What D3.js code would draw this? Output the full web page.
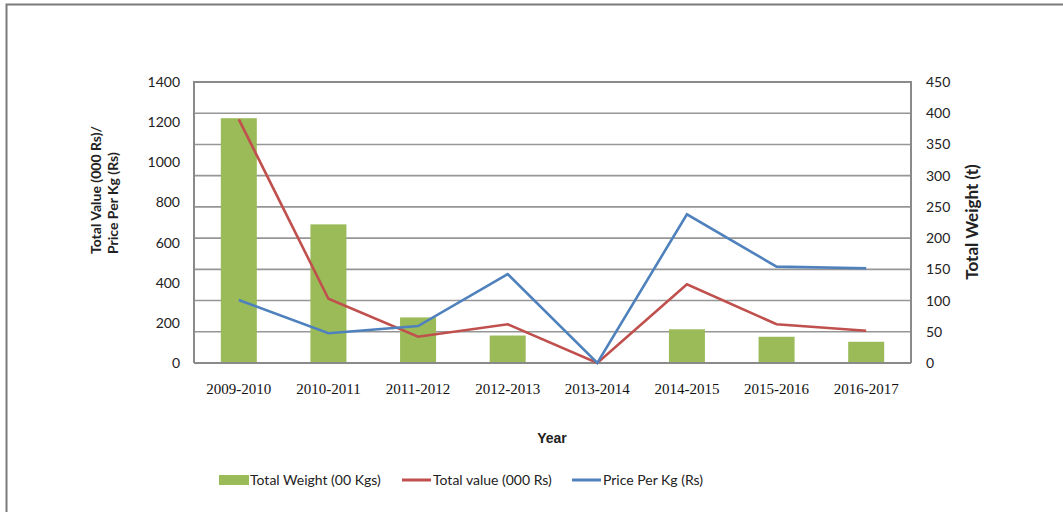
<!DOCTYPE html>
<html>
<head>
<meta charset="utf-8">
<script src="https://cdn.jsdelivr.net/npm/d3@7"></script>
<style>
  body { margin: 0; background: #fff; }
  svg { display: block; }
</style>
</head>
<body>
<svg id="chart" width="1063" height="512"></svg>
<script>
// data
var years = ['2009-2010', '2010-2011', '2011-2012', '2012-2013', '2013-2014', '2014-2015', '2015-2016', '2016-2017']
var totalWeight = [392, 222, 73, 44, 0, 54, 42, 34]       // right axis (t)
var totalValue = [1214, 320, 131, 193, 0, 392, 193, 161]  // left axis
var pricePerKg = [314, 148, 184, 443, 0, 741, 480, 472]   // left axis
var leftTicks = [0, 200, 400, 600, 800, 1000, 1200, 1400]
var rightTicks = [0, 50, 100, 150, 200, 250, 300, 350, 400, 450]

var svg = d3.select('#chart')
var plotL = 194, plotR = 911, plotT = 82, plotB = 363

// outer frame of the picture
svg.append('path')
  .attr('d', 'M6.5,512 V4.5 H1063')
  .attr('fill', 'none')
  .attr('stroke', '#7a7a7a')
  .attr('stroke-width', 2)

var xc = d3.scaleBand().domain(years).range([plotL, plotR])
var yL = d3.scaleLinear().domain([0, 1400]).range([plotB, plotT])
var yR = d3.scaleLinear().domain([0, 450]).range([plotB, plotT])

// gridlines follow the right axis
svg.append('g')
  .selectAll('line')
  .data(rightTicks)
  .enter()
  .append('line')
  .attr('x1', plotL).attr('x2', plotR)
  .attr('y1', function(d) { return yR(d) })
  .attr('y2', function(d) { return yR(d) })
  .attr('stroke', '#969696')
  .attr('stroke-width', 1.6)

svg.append('path')
  .attr('d', 'M' + plotL + ',' + plotB + 'V' + plotT + 'H' + plotR + 'V' + plotB)
  .attr('fill', 'none')
  .attr('stroke', '#8a8a8a')
  .attr('stroke-width', 2)

function cx(i) { return xc(years[i]) + xc.bandwidth() / 2 }

// bars
svg.append('g')
  .selectAll('rect')
  .data(totalWeight)
  .enter()
  .append('rect')
  .attr('x', function(d, i) { return cx(i) - 18 })
  .attr('width', 36)
  .attr('y', function(d) { return yR(d) })
  .attr('height', function(d) { return plotB - yR(d) })
  .attr('fill', '#9bbb59')

svg.append('line')
  .attr('x1', plotL).attr('x2', plotR)
  .attr('y1', plotB).attr('y2', plotB)
  .attr('stroke', '#8a8a8a').attr('stroke-width', 2)

var line = d3.line()
  .x(function(d, i) { return cx(i) })
  .y(function(d) { return yL(d) })

svg.append('path')
  .datum(totalValue)
  .attr('d', line)
  .attr('fill', 'none')
  .attr('stroke', '#c0504d')
  .attr('stroke-width', 2.6)

svg.append('path')
  .datum(pricePerKg)
  .attr('d', line)
  .attr('fill', 'none')
  .attr('stroke', '#4f81bd')
  .attr('stroke-width', 2.6)

// axes
var leftAxis = svg.append('g')
  .attr('transform', 'translate(' + (plotL - 14) + ',0)')
  .call(d3.axisLeft(yL).tickValues(leftTicks).tickSize(0).tickPadding(0).tickFormat(d3.format('d')))
leftAxis.select('.domain').remove()
leftAxis.selectAll('text')
  .attr('font-family', 'Lato, "Open Sans", sans-serif')
  .attr('font-size', 14)
  .attr('fill', '#222')

var rightAxis = svg.append('g')
  .attr('transform', 'translate(' + (plotR + 15) + ',0)')
  .call(d3.axisRight(yR).tickValues(rightTicks).tickSize(0).tickPadding(0))
rightAxis.select('.domain').remove()
rightAxis.selectAll('text')
  .attr('font-family', 'Lato, "Open Sans", sans-serif')
  .attr('font-size', 14)
  .attr('fill', '#222')

var bottomAxis = svg.append('g')
  .attr('transform', 'translate(0,' + (plotB + 20) + ')')
  .call(d3.axisBottom(xc).tickSize(0).tickPadding(0))
bottomAxis.select('.domain').remove()
bottomAxis.selectAll('text')
  .attr('font-family', '"Liberation Serif", "Times New Roman", serif')
  .attr('font-size', 15)
  .attr('fill', '#111')

// titles
svg.append('text')
  .attr('x', 552).attr('y', 443)
  .attr('text-anchor', 'middle')
  .attr('font-family', '"Liberation Sans", Arial, sans-serif')
  .attr('font-weight', 'bold')
  .attr('font-size', 14)
  .attr('fill', '#222')
  .text('Year')

var lt = svg.append('text')
  .attr('transform', 'translate(101,254) rotate(-90)')
  .attr('font-family', 'Lato, "Open Sans", sans-serif')
  .attr('font-weight', 'bold')
  .attr('font-size', 14)
  .attr('fill', '#222')
lt.append('tspan').attr('x', 0).attr('dy', 0).text('Total Value (000 Rs)/')
lt.append('tspan').attr('x', 0).attr('dy', 17).text('Price Per Kg (Rs)')

svg.append('text')
  .attr('transform', 'translate(978,222) rotate(-90)')
  .attr('text-anchor', 'middle')
  .attr('font-family', 'Lato, "Open Sans", sans-serif')
  .attr('font-weight', 'bold')
  .attr('font-size', 17)
  .attr('fill', '#222')
  .text('Total Weight (t)')

// legend
var legend = [
  { label: 'Total Weight (00 Kgs)', color: '#9bbb59', type: 'rect', x: 219 },
  { label: 'Total value (000 Rs)', color: '#c0504d', type: 'line', x: 402 },
  { label: 'Price Per Kg (Rs)', color: '#4f81bd', type: 'line', x: 572 }
]
var lg = svg.append('g')
  .selectAll('g')
  .data(legend)
  .enter()
  .append('g')
  .attr('transform', function(d) { return 'translate(' + d.x + ',480)' })
lg.filter(function(d) { return d.type === 'rect' })
  .append('rect')
  .attr('x', 0).attr('y', -5).attr('width', 30).attr('height', 10)
  .attr('fill', function(d) { return d.color })
lg.filter(function(d) { return d.type === 'line' })
  .append('line')
  .attr('x1', 0).attr('x2', 29).attr('y1', 0).attr('y2', 0)
  .attr('stroke', function(d) { return d.color })
  .attr('stroke-width', 3)
lg.append('text')
  .attr('x', 31).attr('y', 5)
  .attr('font-family', 'Lato, "Open Sans", sans-serif')
  .attr('font-size', 14)
  .attr('fill', '#222')
  .text(function(d) { return d.label })
</script>
</body>
</html>
